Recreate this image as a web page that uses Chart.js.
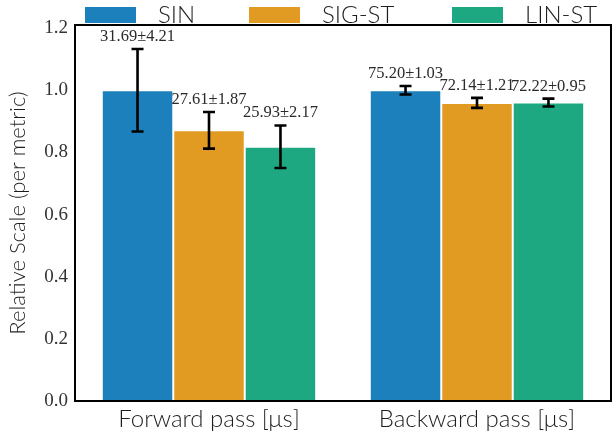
<!DOCTYPE html>
<html>
<head>
<meta charset="utf-8">
<script src="https://cdn.jsdelivr.net/npm/chart.js@4.4.1/dist/chart.umd.min.js"></script>
<style>
  html, body { margin: 0; padding: 0; background: #fff; }
  #wrap { width: 613px; height: 438px; }
</style>
</head>
<body>
<div id="wrap"><canvas id="myChart" width="613" height="438"></canvas></div>
<script>
// raw timings (mean, std)
const categories = ['Forward pass [μs]', 'Backward pass [μs]'];
const seriesNames = ['SIN', 'SIG-ST', 'LIN-ST'];
const sinMean = [31.69, 75.20];
const sinStd = [4.21, 1.03];
const sigMean = [27.61, 72.14];
const sigStd = [1.87, 1.21];
const linMean = [25.93, 72.22];
const linStd = [2.17, 0.95];
const yTicks = [0, 0.2, 0.4, 0.6, 0.8, 1.0, 1.2];

const colors = ['#1b80bb', '#e19a22', '#1ea882'];
const means = [sinMean, sigMean, linMean];
const stds = [sinStd, sigStd, linStd];

// scale each metric relative to SIN
const datasets = seriesNames.map(function(name, i) {
  return {
    label: name,
    data: means[i].map((m, j) => m / sinMean[j]),
    err: stds[i].map((s, j) => s / sinMean[j]),
    raw: means[i].map((m, j) => m.toFixed(2) + '±' + stds[i][j].toFixed(2)),
    backgroundColor: colors[i],
    borderColor: '#ffffff',
    borderWidth: 1,
    borderSkipped: 'bottom',
    categoryPercentage: 0.8,
    barPercentage: 1.0
  };
});

const errorBars = {
  id: 'errorBars',
  afterDatasetsDraw(chart) {
    const ctx = chart.ctx;
    const y = chart.scales.y;
    ctx.save();
    chart.data.datasets.forEach((ds, i) => {
      chart.getDatasetMeta(i).data.forEach((bar, j) => {
        const v = ds.data[j], e = ds.err[j];
        const top = y.getPixelForValue(v + e);
        const bot = y.getPixelForValue(v - e);
        ctx.strokeStyle = '#000';
        ctx.lineWidth = 2.6;
        ctx.beginPath();
        ctx.moveTo(bar.x, top); ctx.lineTo(bar.x, bot);
        ctx.moveTo(bar.x - 6, top); ctx.lineTo(bar.x + 6, top);
        ctx.moveTo(bar.x - 6, bot); ctx.lineTo(bar.x + 6, bot);
        ctx.stroke();
        ctx.fillStyle = '#2a2a2a';
        ctx.font = '16.5px "Liberation Serif"';
        ctx.textAlign = 'center';
        ctx.textBaseline = 'alphabetic';
        ctx.fillText(ds.raw[j], bar.x, top - 8);
      });
    });
    ctx.restore();
  }
};

const frameAndLegend = {
  id: 'frameAndLegend',
  afterDraw(chart) {
    const ctx = chart.ctx;
    const a = chart.chartArea;
    ctx.save();
    ctx.strokeStyle = '#000';
    ctx.lineWidth = 2;
    ctx.strokeRect(a.left, a.top, a.right - a.left, a.bottom - a.top);
    // legend row above the axes
    const boxX = [85, 249, 452];
    ctx.font = '300 24px Lato';
    ctx.textAlign = 'left';
    ctx.textBaseline = 'alphabetic';
    chart.data.datasets.forEach((ds, i) => {
      ctx.fillStyle = ds.backgroundColor;
      ctx.fillRect(boxX[i], 7, 51, 16);
      ctx.fillStyle = '#1e1e1e';
      ctx.fillText(ds.label, boxX[i] + 73, 23);
    });
    ctx.restore();
  }
};

const config = {
  type: 'bar',
  data: { labels: categories, datasets: datasets },
  options: {
    responsive: false,
    animation: false,
    layout: { padding: { top: 25, right: 2, left: 0, bottom: 0 } },
    plugins: {
      legend: { display: false },
      tooltip: { enabled: false }
    },
    scales: {
      x: {
        grid: { display: false, drawTicks: false },
        border: { display: false },
        ticks: { color: '#1e1e1e', font: { family: 'Lato', size: 24, weight: 300 }, padding: 4 },
        afterFit(scale) { scale.height = 37; }
      },
      y: {
        min: 0,
        max: 1.21,
        grid: { display: false, drawTicks: false },
        border: { display: false },
        afterBuildTicks(scale) { scale.ticks = yTicks.map(v => ({ value: v })); },
        ticks: {
          color: '#333',
          font: { family: 'Liberation Serif', size: 19 },
          padding: 7,
          callback: v => Number(v).toFixed(1)
        },
        title: {
          display: true,
          text: 'Relative Scale (per metric)',
          color: '#1e1e1e',
          font: { family: 'Lato', size: 22, weight: 300 },
          padding: { top: 5, bottom: 0 }
        },
        afterFit(scale) { scale.width = 75; }
      }
    }
  },
  plugins: [errorBars, frameAndLegend]
};
var myChart = new Chart(document.getElementById('myChart'), config);
</script>
</body>
</html>
